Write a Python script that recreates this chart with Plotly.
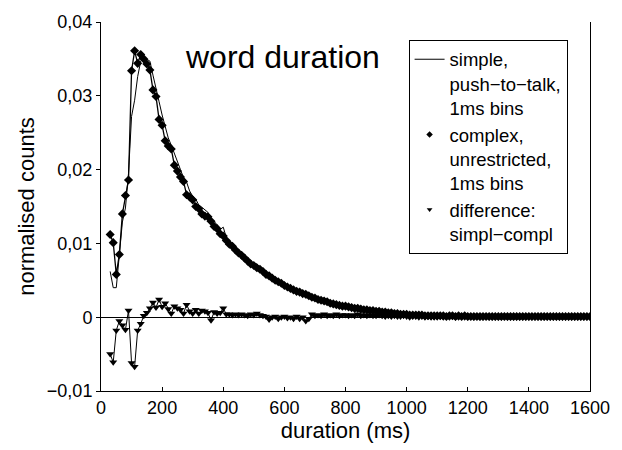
import plotly.graph_objects as go

# bin centres (ms), one value every 10 ms
duration_ms = list(range(30, 1610, 10))

simple_ptt = [
    0.0062, 0.0040, 0.0040, 0.0080, 0.0129, 0.0148, 0.0195,
    0.0272, 0.0294, 0.0326, 0.0347, 0.0352, 0.0349, 0.0347, 0.0328, 0.0312, 0.0292,
    0.0274, 0.0258, 0.0243, 0.0233, 0.0221, 0.0210, 0.0200, 0.0189, 0.0183, 0.0171,
    0.0164, 0.0160, 0.0152, 0.0149, 0.0145, 0.0142, 0.0126, 0.0130, 0.0125, 0.0119,
    0.0122, 0.0108, 0.0103, 0.0099, 0.0095, 0.0090, 0.0088, 0.0083, 0.0078, 0.0076,
    0.0073, 0.0072, 0.0068, 0.0064, 0.0059, 0.0053, 0.0053, 0.0051, 0.0046, 0.0046,
    0.0044, 0.0040, 0.0039, 0.0035, 0.0036, 0.0032, 0.0032, 0.0026, 0.0027, 0.0031,
    0.0028, 0.0027, 0.0025, 0.0026, 0.0023, 0.0022, 0.0020, 0.0021, 0.0018, 0.0018,
    0.0018, 0.0016, 0.0016, 0.0014, 0.0016, 0.0013, 0.0013, 0.0012, 0.0012, 0.0011,
    0.0010, 0.0011, 0.0009, 0.0008, 0.0008, 0.0007, 0.0007, 0.0006, 0.0005, 0.0006,
    0.0005, 0.0003, 0.0004, 0.0004, 0.0003, 0.0004, 0.0002, 0.0003, 0.0002, 0.0002,
    0.0002, 0.0003, 0.0002, 0.0002, 0.0002, 0.0003, 0.0001, 0.0002, 0.0002, 0.0002,
    0.0001, 0.0002, 0.0001, 0.0002, 0.0001, 0.0001, 0.0002, 0.0001, 0.0001, 0.0001,
    0.0001, 0.0001, 0.0002, 0.0001, 0.0001, 0.0001, 0.0001, 0.0001, 0.0001, 0.0001,
    0.0001, 0.0001, 0.0001, 0.0001, 0.0001, 0.0001, 0.0001, 0.0001, 0.0001, 0.0001,
    0.0001, 0.0001, 0.0001, 0.0001, 0.0001, 0.0001, 0.0001, 0.0001, 0.0001, 0.0001,
    0.0001,
]

complex_unr = [
    0.0112, 0.0101, 0.0058, 0.0085, 0.0140, 0.0165, 0.0186,
    0.0334, 0.0361, 0.0344, 0.0356, 0.0350, 0.0343, 0.0335, 0.0308, 0.0299, 0.0268,
    0.0260, 0.0239, 0.0232, 0.0228, 0.0206, 0.0198, 0.0190, 0.0184, 0.0166, 0.0163,
    0.0159, 0.0150, 0.0147, 0.0140, 0.0137, 0.0136, 0.0130, 0.0123, 0.0120, 0.0113,
    0.0110, 0.0104, 0.0099, 0.0096, 0.0091, 0.0087, 0.0084, 0.0080, 0.0076, 0.0072,
    0.0070, 0.0067, 0.0065, 0.0062, 0.0058, 0.0056, 0.0053, 0.0050, 0.0048, 0.0046,
    0.0043, 0.0041, 0.0039, 0.0037, 0.0035, 0.0034, 0.0032, 0.0031, 0.0029, 0.0027,
    0.0026, 0.0024, 0.0023, 0.0022, 0.0021, 0.0019, 0.0018, 0.0017, 0.0016, 0.0015,
    0.0015, 0.0014, 0.0013, 0.0012, 0.0012, 0.0011, 0.0010, 0.0010, 0.0009, 0.0009,
    0.0008, 0.0008, 0.0007, 0.0007, 0.0006, 0.0006, 0.0005, 0.0005, 0.0004, 0.0004,
    0.0004, 0.0003, 0.0003, 0.0003, 0.0003, 0.0003, 0.0002, 0.0002, 0.0002, 0.0002,
    0.0002, 0.0002, 0.0002, 0.0001, 0.0002, 0.0002, 0.0001, 0.0002, 0.0001, 0.0002,
    0.0001, 0.0001, 0.0001, 0.0001, 0.0001, 0.0001, 0.0001, 0.0001, 0.0001, 0.0001,
    0.0001, 0.0001, 0.0001, 0.0001, 0.0001, 0.0001, 0.0001, 0.0001, 0.0001, 0.0001,
    0.0001, 0.0001, 0.0001, 0.0001, 0.0001, 0.0001, 0.0001, 0.0001, 0.0001, 0.0001,
    0.0001, 0.0001, 0.0001, 0.0001, 0.0001, 0.0001, 0.0001, 0.0001, 0.0001, 0.0001,
    0.0001,
]

difference = [
    -0.0050, -0.0061, -0.0018, -0.0005, -0.0011, -0.0017, 0.0009,
    -0.0062, -0.0067, -0.0018, -0.0009, 0.0002, 0.0006, 0.0012, 0.0020, 0.0013, 0.0024,
    0.0014, 0.0019, 0.0011, 0.0005, 0.0015, 0.0012, 0.0010, 0.0005, 0.0017, 0.0008,
    0.0005, 0.0010, 0.0005, 0.0009, 0.0008, 0.0006, -0.0004, 0.0007, 0.0005, 0.0006,
    0.0012, 0.0004, 0.0004, 0.0003, 0.0004, 0.0003, 0.0004, 0.0003, 0.0002, 0.0004,
    0.0003, 0.0005, 0.0003, 0.0002, 0.0001, -0.0003, 0.0000, 0.0001, -0.0002, 0.0000,
    0.0001, -0.0001, 0.0000, -0.0002, 0.0001, -0.0002, 0.0000, -0.0005, -0.0002, 0.0004,
    0.0002, 0.0003, 0.0002, 0.0004, 0.0002, 0.0003, 0.0002, 0.0004, 0.0002, 0.0003,
    0.0003, 0.0002, 0.0003, 0.0002, 0.0004, 0.0002, 0.0003, 0.0002, 0.0003, 0.0002,
    0.0002, 0.0003, 0.0002, 0.0001, 0.0002, 0.0001, 0.0002, 0.0001, 0.0001, 0.0002,
    0.0001, 0.0000, 0.0001, 0.0001, 0.0000, 0.0001, 0.0000, 0.0001, 0.0000, 0.0000,
    0.0000, 0.0001, 0.0000, 0.0001, 0.0000, 0.0001, 0.0000, 0.0000, 0.0001, 0.0000,
    0.0000, 0.0001, 0.0000, 0.0001, 0.0000, 0.0000, 0.0001, 0.0000, 0.0000, 0.0000,
    0.0000, 0.0000, 0.0001, 0.0000, 0.0000, 0.0000, 0.0000, 0.0000, 0.0000, 0.0000,
    0.0000, 0.0000, 0.0000, 0.0000, 0.0000, 0.0000, 0.0000, 0.0000, 0.0000, 0.0000,
    0.0000, 0.0000, 0.0000, 0.0000, 0.0000, 0.0000, 0.0000, 0.0000, 0.0000, 0.0000,
    0.0000,
]

x_tick_vals = [0, 200, 400, 600, 800, 1000, 1200, 1400, 1600]
x_tick_text = ["0", "200", "400", "600", "800", "1000", "1200", "1400", "1600"]
y_tick_vals = [-0.01, 0, 0.01, 0.02, 0.03, 0.04]
y_tick_text = ["\u22120,01", "0", "0,01", "0,02", "0,03", "0,04"]

names = ["simple,<br>push\u2212to\u2212talk,<br>1ms bins",
         "complex,<br>unrestricted,<br>1ms bins",
         "difference:<br>simpl\u2212compl"]

FONT = "Liberation Sans, Arial, sans-serif"

fig = go.Figure()
fig.add_trace(go.Scatter(x=duration_ms, y=simple_ptt, mode="lines",
                         line=dict(color="black", width=1),
                         name=names[0], showlegend=True))
fig.add_trace(go.Scatter(x=duration_ms, y=complex_unr, mode="lines+markers",
                         line=dict(color="black", width=1.3),
                         marker=dict(symbol="diamond", size=7, color="black"),
                         name=names[1], showlegend=False))
fig.add_trace(go.Scatter(x=duration_ms, y=difference, mode="lines+markers",
                         line=dict(color="black", width=1),
                         marker=dict(symbol="triangle-down", size=7, color="black"),
                         name=names[2], showlegend=False))
# legend-only entries (marker symbol only, as in the original key)
fig.add_trace(go.Scatter(x=[None], y=[None], mode="markers",
                         marker=dict(symbol="diamond", size=5, color="black"),
                         name=names[1]))
fig.add_trace(go.Scatter(x=[None], y=[None], mode="markers",
                         marker=dict(symbol="triangle-down", size=5, color="black"),
                         name=names[2]))

fig.add_annotation(text="word duration", xref="paper", yref="paper",
                   x=0.371, y=0.905, xanchor="center", yanchor="middle",
                   showarrow=False, font=dict(size=32, color="black", family=FONT))

fig.update_layout(
    width=622, height=450,
    margin=dict(l=101, r=31, t=16, b=59),
    paper_bgcolor="white", plot_bgcolor="white",
    font=dict(family=FONT, color="black", size=18),
    legend=dict(x=0.629, y=0.952, xanchor="left", yanchor="top",
                bgcolor="white", bordercolor="black", borderwidth=1,
                font=dict(size=18.5, family=FONT, color="black"),
                valign="top", itemwidth=30),
    showlegend=True,
)
fig.update_xaxes(range=[0, 1600], tickvals=x_tick_vals, ticktext=x_tick_text,
                 ticks="inside", ticklen=4, tickcolor="black",
                 showline=True, linecolor="black", linewidth=1,
                 showgrid=False, zeroline=False,
                 title=dict(text="duration (ms)", font=dict(size=22), standoff=4),
                 tickfont=dict(size=18))
fig.update_yaxes(range=[-0.01, 0.04], tickvals=y_tick_vals, ticktext=y_tick_text,
                 ticks="outside", ticklen=4, tickcolor="black",
                 showline=True, linecolor="black", linewidth=1, mirror=True,
                 showgrid=False, zeroline=True, zerolinecolor="black", zerolinewidth=1,
                 title=dict(text="normalised counts", font=dict(size=22), standoff=6),
                 tickfont=dict(size=18))

fig.write_html("out.html")
